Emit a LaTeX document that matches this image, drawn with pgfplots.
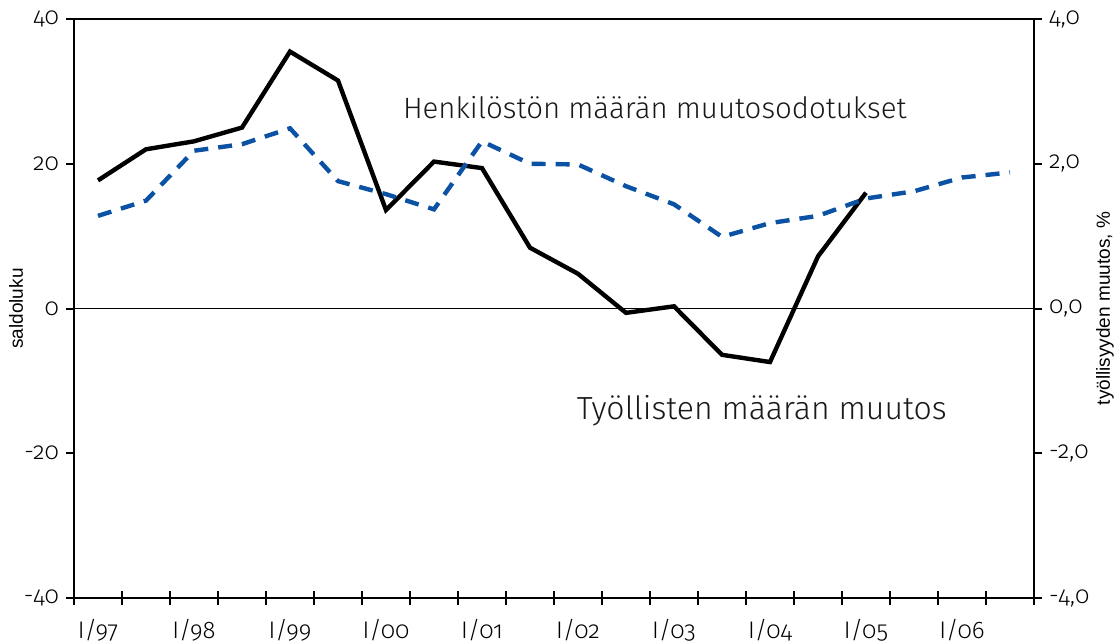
\documentclass[border=0pt]{standalone}
\usepackage{pgfplots}
\pgfplotsset{compat=1.18}
\usepackage{fontspec}
\setmainfont{Fira Sans Light}[Numbers=OldStyle]
\newfontfamily\arialfont{Liberation Sans}
\definecolor{bluedash}{RGB}{12,82,164}

\pgfplotstableread{
x y
0 17.7
1 22.0
2 23.1
3 25.0
4 35.5
5 31.5
6 13.6
7 20.3
8 19.4
9 8.4
10 4.8
11 -0.6
12 0.3
13 -6.4
14 -7.4
15 7.2
16 16.0
}\tyolliset

\pgfplotstableread{
x y
0 1.28
1 1.49
2 2.18
3 2.27
4 2.49
5 1.76
6 1.58
7 1.37
8 2.31
9 2.00
10 1.99
11 1.69
12 1.44
13 0.99
14 1.18
15 1.28
16 1.52
17 1.62
18 1.81
19 1.88
}\odotukset

\begin{document}
\begin{tikzpicture}
\pgfplotsset{
 base/.style={
  scale only axis, width=480pt, height=289.5pt,
  at={(0,0)}, anchor=south west,
  xmin=-0.5, xmax=19.5,
  axis line style={line width=1pt, black},
  every tick/.style={black, line width=1pt},
  tick label style={font=\fontsize{12}{14}\selectfont},
 }
}
% axis 1: frame, x ticks, black series, texts
\begin{axis}[base,
  ymin=-40, ymax=40,
  clip=false,
  xtick={-0.5,0.5,...,19.5}, xticklabels={},
  xtick pos=bottom,
  xtick align=center,
  major tick length=7pt,
  ytick=\empty,
  extra x ticks={0,2,...,18},
  extra x tick labels={I/97,I/98,I/99,I/00,I/01,I/02,I/03,I/04,I/05,I/06},
  extra x tick style={tick style={draw=none}, xticklabel style={yshift=-3.5pt}},
]
\draw[line width=0.6pt, black] (axis cs:-0.5,0) -- (axis cs:19.5,0);
\addplot[black, line width=2.2pt, line join=miter, mark=none] table[x=x,y=y] {\tyolliset};
\node[font=\fontsize{14.7}{17}\selectfont, black!90] at (axis cs:11.6,27.8) {Henkilöstön määrän muutosodotukset};
\node[font=\fontsize{16}{19}\selectfont, black!90] at (axis cs:13.83,-14.1) {Työllisten määrän muutos};
\node[rotate=90, font=\arialfont\fontsize{9.5}{11}\selectfont] at ([xshift=-29pt]rel axis cs:0,0.5) {saldoluku};
\node[rotate=90, font=\arialfont\fontsize{9.5}{11}\selectfont] at ([xshift=35.5pt]rel axis cs:1,0.5) {työllisyyden muutos, \%};
\end{axis}
% axis 2: left y
\begin{axis}[base,
  ymin=-40, ymax=40,
  hide x axis,
  axis y line*=left,
  ytick={-40,-20,0,20,40},
  yticklabels={-40,-20,0,20,40},
  ytick align=outside,
  major tick length=4pt,
]
\end{axis}
% axis 3: right y, blue series
\begin{axis}[base,
  ymin=-4, ymax=4,
  hide x axis,
  axis y line*=right,
  ytick={-4,-2,0,2,4},
  yticklabels={{-4,0},{-2,0},{0,0},{2,0},{4,0}},
  ytick align=outside,
  major tick length=4pt,
]
\addplot[bluedash, line width=2.2pt, dash pattern=on 7pt off 5pt, mark=none] table[x=x,y=y] {\odotukset};
\end{axis}
\pgfresetboundingbox
\useasboundingbox (-37pt,-22pt) rectangle (521pt,299pt);
\end{tikzpicture}
\end{document}
